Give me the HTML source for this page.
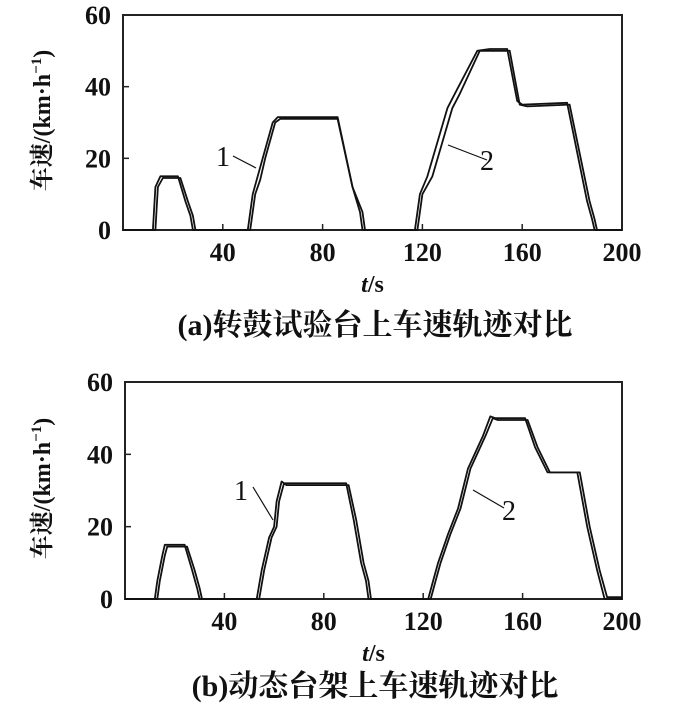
<!DOCTYPE html>
<html><head><meta charset="utf-8">
<style>
html,body{margin:0;padding:0;background:#fff;}
svg{display:block;}
text{font-family:"Liberation Serif","Noto Serif CJK SC",serif;fill:#111;}
.tick{font-size:26px;font-weight:bold;}
.cap{font-size:30px;font-family:"Liberation Serif","Noto Serif CJK SC",serif;font-weight:bold;}
</style></head>
<body>
<svg id="chart" width="700" height="707" viewBox="0 0 700 707"></svg>
<script>
const xTicks=[40,80,120,160,200];
const yTicks=[0,20,40,60];
// panel (a) drum test bench
const a1T=[0,12,13,15,22,25,27,28,50,52,54,56,60,62,86,92,95,96,117,119,122,130,133,142,147,154,158,160,178,186,188,189,200];
const a1V=[0,0,12,15,15,8,4,0,0,10,15,20,30,31.5,31.5,12,5,0,0,10,15,34,38,50,50.5,50.5,36,35,35.5,8,3,0,0];
const a2T=[0,13,14,16,23,26,28,29,51,53,55,57,61,63,86,92,96,97,118,120,124,132,135,143,148,155,159,162,179,187,189,190,200];
const a2V=[0,0,12,14.5,14.5,8,4,0,0,10,14,20,30,31,31,12,5,0,0,10,15,34,38,50,50,50,35,34.5,35,8,3,0,0];
// panel (b) dynamic bench
const b1T=[0,12,13,15,16,24,27,29,30,53,55,58,60,61,63,64,89,92,95,97,98,122,124,126,130,134,138,144,147,149,161,165,170,182,186,190,193,200];
const b1V=[0,0,5,12,15,15,8,3,0,0,8,17,20,27,32.5,32,32,22,10,5,0,0,5,10,18,25,36,45,50.5,50,50,42,35,35,20,8,0,0];
const b2T=[0,13,14,16,17,25,28,30,31,54,56,59,61,62,64,65,90,93,96,98,99,123,125,127,131,135,139,145,148,150,162,166,171,183,187,191,194,200];
const b2V=[0,0,5,12,14.5,14.5,8,3,0,0,8,17,20,27,32,31.5,31.5,22,10,5,0,0,5,10,18,25,36,45,50,49.5,49.5,42,35,35,20,8,0.5,0.5];

const NS='http://www.w3.org/2000/svg';
const svg=document.getElementById('chart');
function mk(tag,attrs,parent){const e=document.createElementNS(NS,tag);for(const k in attrs)e.setAttribute(k,attrs[k]);(parent||svg).appendChild(e);return e;}

function panel(id,L,R,T,B,s1t,s1v,s2t,s2v,cap,lab1,lab2,capOff){
  const g=mk('g',{});
  
  
  const xs=t=>L+(R-L)*t/200, ys=v=>B-(B-T)*v/60;
  const box=mk('rect',{x:L,y:T,width:R-L,height:B-T,fill:'none',stroke:'#222','stroke-width':2},g);
  
  
  xTicks.forEach(t=>{
    if(t<200){const l=mk('line',{x1:xs(t),x2:xs(t),y1:B,y2:B-6,stroke:'#222','stroke-width':1.5},g);
    
    }
    const tx=mk('text',{x:xs(t),y:B+31,'text-anchor':'middle',class:'tick'},g);tx.textContent=t;
    
    
  });
  yTicks.forEach(v=>{
    if(v>0&&v<60){const l=mk('line',{x1:L,x2:L+6,y1:ys(v),y2:ys(v),stroke:'#222','stroke-width':1.5},g);
    
    }
    const tx=mk('text',{x:L-12,y:ys(v)+9,'text-anchor':'end',class:'tick'},g);tx.textContent=v;
    
    
  });
  [[s1t,s1v,'series-1-line'],[s2t,s2v,'series-2-line']].forEach(([ts,vs,n])=>{
    const d=ts.map((t,i)=>(i?'L':'M')+xs(t).toFixed(1)+','+ys(vs[i]).toFixed(1)).join(' ');
    const p=mk('path',{d:d,fill:'none',stroke:'#111','stroke-width':1.8,'stroke-linejoin':'round'},g);
    
    
  });
  const yl=mk('text',{transform:`translate(50,${(T+B)/2-2}) rotate(-90)`,'text-anchor':'middle',style:'font-size:24px;font-weight:bold'},g);
  yl.innerHTML='车速/(km·h<tspan dy="-9" style="font-size:15px">−1</tspan><tspan dy="9">)</tspan>';
  
  
  const xl=mk('text',{x:(L+R)/2,y:B+62,'text-anchor':'middle',style:'font-size:24px;font-weight:bold'},g);
  xl.innerHTML='<tspan font-style="italic">t</tspan>/s';
  
  
  const c=mk('text',{x:375,y:B+capOff,'text-anchor':'middle',class:'cap'},g);c.textContent=cap;
  
  
  [lab1,lab2].forEach((lb,i)=>{
    const ln=mk('line',{x1:lb[0],y1:lb[1],x2:lb[2],y2:lb[3],stroke:'#111','stroke-width':1.2},g);
    
    
    const t=mk('text',{x:lb[4],y:lb[5],style:'font-size:28px'},g);t.textContent=String(i+1);
    
    
  });
}
panel('panel-a-drum-bench',123,622,15,230,a1T,a1V,a2T,a2V,'(a)转鼓试验台上车速轨迹对比',
  [233,156,256,168,216,166],[448,145,487,160,480,170],105);
panel('panel-b-dynamic-bench',125,622,382,599,b1T,b1V,b2T,b2V,'(b)动态台架上车速轨迹对比',
  [253,487,273,520,234,500],[473,490,504,508,502,520],97);
</script>
</body></html>
